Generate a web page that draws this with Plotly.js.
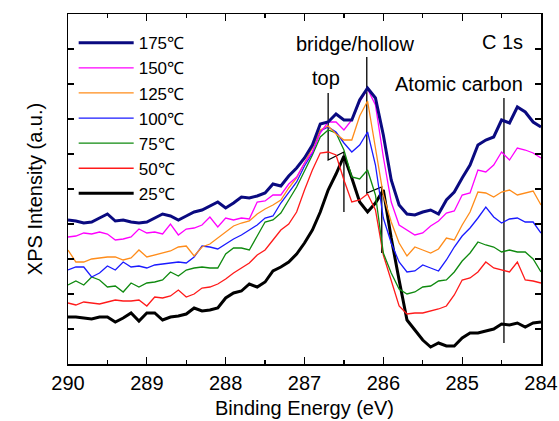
<!DOCTYPE html>
<html>
<head>
<meta charset="utf-8">
<script src="https://cdn.plot.ly/plotly-3.0.1.min.js"></script>
<style>
html,body{margin:0;padding:0;background:#fff;}
#chart{width:559px;height:421px;}
</style>
</head>
<body>
<div id="chart"></div>
<script>
// Binding energy grid (eV)
const energy = [290.0,289.9,289.8,289.7,289.6,289.5,289.4,289.3,289.2,289.1,289.0,288.9,288.8,288.7,288.6,288.5,288.4,288.3,288.2,288.1,288.0,287.9,287.8,287.7,287.6,287.5,287.4,287.3,287.2,287.1,287.0,286.9,286.8,286.7,286.6,286.5,286.4,286.3,286.2,286.1,286.0,285.9,285.8,285.7,285.6,285.5,285.4,285.3,285.2,285.1,285.0,284.9,284.8,284.7,284.6,284.5,284.4,284.3,284.2,284.1,284.0];

// XPS intensity (a.u., offset stacked as in the figure)
const i175 = [144,143,141,142,146,150,143,144,142,141,
              142,146,150,148,144,148,152,154,158,162,
              156,161,167,166,168,171,180,178,188,196,
              206,219,240,242,250,244,244,264,276,266,
              229,184,159,150,149,152,154,150,164,172,
              186,199,219,224,227,244,241,257,252,242,
              237];
const i150 = [127,128,131,130,132,130,124,125,127,135,
              131,132,130,140,129,135,136,139,147,137,
              146,144,146,145,162,163,169,169,180,187,
              201,212,231,242,242,234,244,262,275,259,
              207,162,139,134,129,131,138,143,151,153,
              169,171,194,192,199,212,204,216,214,211,
              206];
const i125 = [114,102,102,105,106,107,107,104,106,114,
              107,109,111,113,117,118,108,117,120,126,
              132,138,141,143,150,155,159,164,176,186,
              201,216,234,238,230,224,224,248,263,214,
              169,142,121,108,117,114,111,115,126,124,
              139,152,172,171,167,172,174,169,171,173,
              159];
const i100 = [94,97,97,87,91,98,94,102,97,98,
              96,99,100,101,102,101,107,118,117,115,
              120,125,129,134,139,146,148,161,172,182,
              198,211,233,237,232,221,212,219,232,199,
              146,121,102,92,93,99,96,93,104,117,
              128,136,146,157,147,141,145,146,142,142,
              131];
const i75 = [79,83,79,87,84,77,78,72,81,77,
             81,82,84,92,88,94,96,97,96,96,
             110,116,116,114,128,142,144,151,164,177,
             193,209,227,234,231,214,187,185,194,169,
             111,91,75,70,72,77,78,83,84,92,
             103,111,122,119,117,112,114,112,112,105,
             92];
const i50 = [61,59,62,61,60,62,64,63,63,64,
             58,67,66,68,74,67,70,76,77,80,
             85,91,96,101,109,114,124,134,140,152,
             174,194,211,212,209,184,162,164,170,154,
             109,84,58,50,51,51,53,55,58,69,
             84,86,92,102,96,94,92,102,84,83,
             81];
const i25 = [47,47,46,45,47,47,42,46,51,43,
             51,51,44,47,48,50,56,53,54,56,
             66,71,73,80,77,82,93,97,102,110,
             121,134,152,174,190,208,186,162,152,161,
             174,126,84,44,34,24,17,21,18,18,
             26,31,31,33,35,40,39,41,37,41,
             42];

const seriesNames = ['175\u2103','150\u2103','125\u2103','100\u2103','75\u2103','50\u2103','25\u2103'];
const seriesData = [i175,i150,i125,i100,i75,i50,i25];
const seriesColors = ['#0a0a80','#ff00ff','#ff8c1a','#1a1aff','#0f8a0f','#ff1a1a','#000000'];
const seriesWidths = [3,1.3,1.3,1.3,1.3,1.3,3];

// Peak marker (leader) lines
const topLeaderE = [286.70,286.70,286.50,286.50];
const topLeaderI = [271,204,212,152];
const bridgeLeaderE = [286.21,286.21,286.02,286.02];
const bridgeLeaderI = [307,171,177,111];
const atomicLeaderE = [284.47,284.47];
const atomicLeaderI = [266,21];

const labels = [
  {text:'bridge/hollow', x:286.36, y:320},
  {text:'top', x:286.73, y:286},
  {text:'C 1s', x:284.49, y:322},
  {text:'Atomic carbon', x:285.04, y:280}
];

const traces = [];
[[topLeaderE,topLeaderI],[bridgeLeaderE,bridgeLeaderI],[atomicLeaderE,atomicLeaderI]].forEach(p=>{
  traces.push({x:p[0], y:p[1], mode:'lines', type:'scatter', showlegend:false, hoverinfo:'skip',
    line:{color:'#000', width:1.3}});
});
for (let s = seriesNames.length-1; s >= 0; s--) {
  traces.push({x:energy, y:seriesData[s], name:seriesNames[s], mode:'lines', type:'scatter',
    line:{color:seriesColors[s], width:seriesWidths[s]}});
}

const font = {family:'Arial, "Liberation Sans", sans-serif', color:'#000'};

const layout = {
  width:559, height:421,
  margin:{l:68, r:18, t:14, b:57},
  paper_bgcolor:'#fff', plot_bgcolor:'#fff',
  showlegend:true,
  legend:{x:0.012, y:0.968, xanchor:'left', yanchor:'top', traceorder:'reversed',
    bgcolor:'rgba(0,0,0,0)', borderwidth:0, itemwidth:55,
    font:Object.assign({size:17}, font), tracegroupgap:0},
  xaxis:{range:[290,284], tick0:284, dtick:1, ticks:'inside', ticklen:7, tickwidth:1.3,
    tickcolor:'#000', showline:true, linecolor:'#000', linewidth:1.5, mirror:'ticks',
    showgrid:false, zeroline:false,
    minor:{dtick:0.5, ticks:'inside', ticklen:4, tickwidth:1.3, tickcolor:'#000', showgrid:false},
    tickfont:Object.assign({size:20}, font),
    title:{text:'Binding Energy (eV)', font:Object.assign({size:20}, font), standoff:8}},
  yaxis:{range:[0,350], tick0:0, dtick:35, ticks:'inside', ticklen:6, tickwidth:1.3,
    tickcolor:'#000', showline:true, linecolor:'#000', linewidth:1.5, mirror:'ticks',
    showgrid:false, zeroline:false, showticklabels:false,
    title:{text:'XPS Intensity (a.u.)', font:Object.assign({size:20}, font), standoff:18}},
  annotations: labels.map(l=>({text:l.text, x:l.x, y:l.y, xref:'x', yref:'y', showarrow:false,
    font:Object.assign({size:20}, font)}))
};

Plotly.newPlot('chart', traces, layout, {displayModeBar:false, staticPlot:true});
</script>
</body>
</html>
